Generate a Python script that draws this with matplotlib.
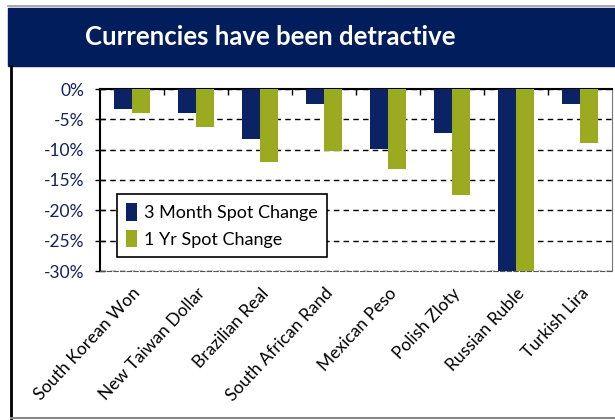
import numpy as np
import matplotlib.pyplot as plt
from matplotlib.patches import Rectangle
from matplotlib.lines import Line2D
from matplotlib.ticker import FuncFormatter, FixedLocator

plt.rcParams['font.family'] = ['Lato', 'DejaVu Sans']

currencies = ['South Korean Won', 'New Taiwan Dollar', 'Brazilian Real',
              'South African Rand', 'Mexican Peso', 'Polish Zloty',
              'Russian Ruble', 'Turkish Lira']
three_month = [-3.3, -4.0, -8.3, -2.5, -9.9, -7.2, -30.0, -2.5]
one_year = [-4.0, -6.2, -12.0, -10.3, -13.2, -17.4, -30.0, -8.9]

navy = '#0b2264'
olive = '#9bab1f'

W, H = 615, 420
fig = plt.figure(figsize=(W / 100, H / 100), dpi=100)

# title band and outer frame
fig.patches.append(Rectangle((8 / W, 1 - 66 / H), 1 - 8 / W, 58 / H,
                             transform=fig.transFigure, color='#021d5c', zorder=0))
fig.lines.append(Line2D([8 / W, 1], [1 - 6 / H, 1 - 6 / H], transform=fig.transFigure,
                        color='#999999', lw=1.2))
fig.lines.append(Line2D([11 / W, 11 / W], [2 / H, 1 - 66 / H], transform=fig.transFigure,
                        color='black', lw=2))
fig.lines.append(Line2D([11 / W, 1], [2 / H, 2 / H], transform=fig.transFigure,
                        color='#888888', lw=1.5))
fig.text(270 / W, 1 - 37 / H, 'Currencies have been detractive', color='white',
         fontsize=18.5, fontweight='bold', ha='center', va='center')

ax = fig.add_axes([100 / W, 1 - 271 / H, 512 / W, 182 / H])
x = np.arange(len(currencies))
bw = 0.28
ax.bar(x - bw / 2, three_month, bw, color=navy, label='3 Month Spot Change', zorder=3)
ax.bar(x + bw / 2, one_year, bw, color=olive, label='1 Yr Spot Change', zorder=3)

ax.set_xlim(-0.5, len(currencies) - 0.5)
ax.set_ylim(-30, 0)
ax.set_yticks(np.arange(-30, 1, 5))
ax.yaxis.set_major_formatter(FuncFormatter(lambda v, p: f'{v:.0f}%'))
ax.tick_params(axis='y', direction='inout', length=7, width=1, labelsize=12.5,
               labelcolor='#14235a', pad=8)
ax.grid(axis='y', color='black', linestyle=(0, (4, 3)), lw=1, zorder=1)

ax.set_xticks(x)
ax.set_xticklabels(currencies, rotation=47, ha='right', rotation_mode='anchor', fontsize=12.5)
ax.tick_params(axis='x', length=0, pad=10)
ax.xaxis.set_minor_locator(FixedLocator(np.arange(0.5, len(currencies) - 1, 1)))
ax.tick_params(axis='x', which='minor', top=True, bottom=False, direction='in',
               length=4, width=1)

for s in ['left', 'top']:
    ax.spines[s].set_color('black')
    ax.spines[s].set_linewidth(1.5)
ax.spines['right'].set_color('#777777')
ax.spines['bottom'].set_color('#555555')
ax.spines['bottom'].set_linestyle((0, (4, 2)))

leg = ax.legend(loc='lower left', bbox_to_anchor=(0.033, 0.077), borderaxespad=0,
                fontsize=13, frameon=True, fancybox=False, edgecolor='black',
                framealpha=1, handlelength=0.6, handleheight=1.1, handletextpad=0.4,
                borderpad=0.5, labelspacing=0.5)
leg.get_frame().set_linewidth(1.2)
leg.set_zorder(5)

fig.savefig('out.png', dpi=100)
